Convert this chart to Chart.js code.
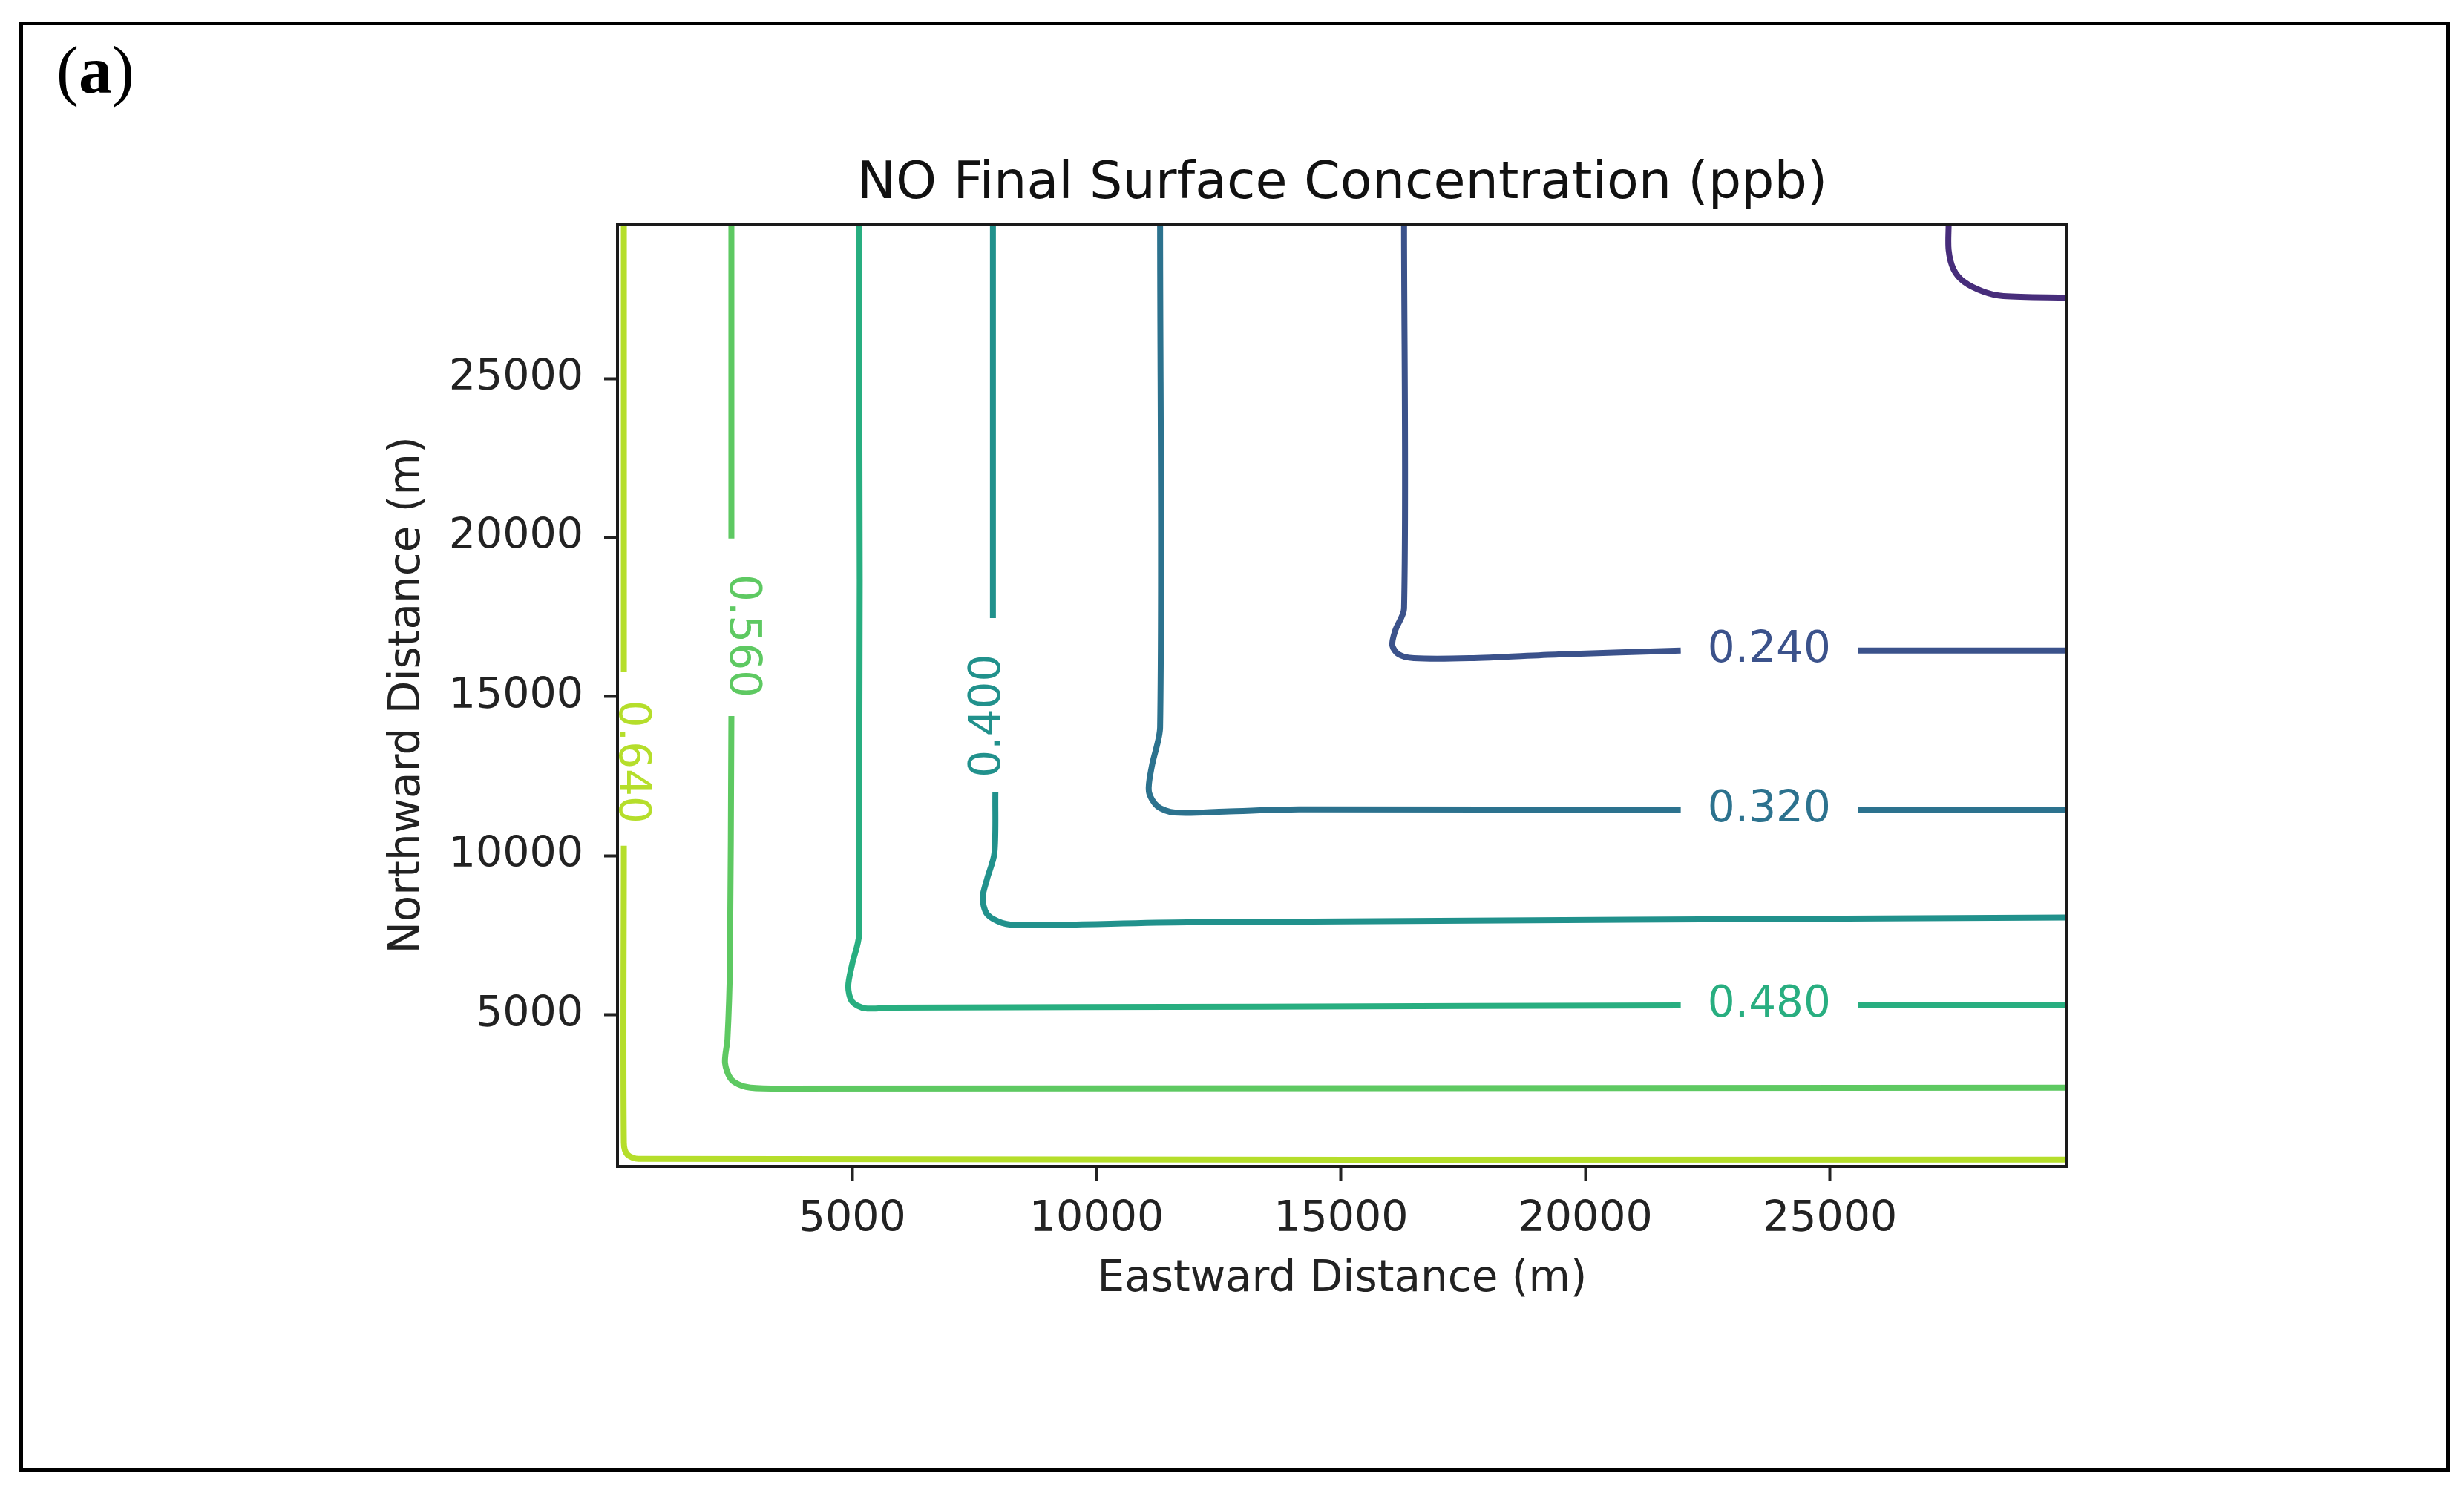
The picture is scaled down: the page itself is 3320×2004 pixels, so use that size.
<!DOCTYPE html>
<html>
<head>
<meta charset="utf-8">
<script src="https://cdn.jsdelivr.net/npm/chart.js@4.4.0/dist/chart.umd.min.js"></script>
<style>
  html, body { margin: 0; padding: 0; background: #fff; overflow: hidden; }
  #page { position: relative; width: 3320px; height: 2004px; }
  #frame { position: absolute; left: 26px; top: 29px; width: 3275px; height: 1955px; box-sizing: border-box; border: 5px solid #000; }
  #tag { position: absolute; left: 76px; top: 50px; font: normal 90px "Liberation Serif", "Times New Roman", serif; line-height: 1; color: #000; }
  #tag b { font-weight: bold; }
  #box { position: absolute; left: 0; top: 0; width: 3320px; height: 2004px; }
</style>
</head>
<body>
<div id="page">
  <div id="frame"></div>
  <div id="tag">(<b>a</b>)</div>
  <div id="box"><canvas id="myChart"></canvas></div>
</div>
<script>
// axes
const xRange = [200, 29850];
const yRange = [240, 29850];
const xTicks = [5000, 10000, 15000, 20000, 25000];
const xTickLabels = ['5000', '10000', '15000', '20000', '25000'];
const yTicks = [5000, 10000, 15000, 20000, 25000];
const yTickLabels = ['5000', '10000', '15000', '20000', '25000'];

// contour levels (ppb)
const levels = [0.16, 0.24, 0.32, 0.40, 0.48, 0.56, 0.64];
const levelColors = ['#472d7b', '#3b528b', '#2c728e', '#21918c', '#28ae80', '#5ec962', '#b5de2b'];

// contour paths (null = gap left for the inline label)
const c016x = [27430, 27430, 27530, 27750, 28140, 28550, 29850];
const c016y = [29850, 29030, 28430, 28030, 27730, 27590, 27540];

const c024x = [16290, 16290, 16110, 16050, 16180, 16490, 17630, 19450, 21950, 23760, 25580, 29850];
const c024y = [29850, 17770, 17080, 16610, 16330, 16210, 16210, 16330, 16450, null, 16450, 16450];

const c032x = [11300, 11300, 11130, 11070, 11250, 11600, 12620, 14140, 21950, 23760, 25580, 29850];
const c032y = [29850, 14040, 12810, 12020, 11550, 11360, 11390, 11460, 11430, null, 11430, 11430];

const c040x = [7880, 7880, 7880, 7930, 7910, 7760, 7670, 7760, 8070, 8520, 11860, 29850];
const c040y = [29850, 17470, null, 11990, 10080, 9270, 8680, 8170, 7890, 7820, 7910, 8060];

const c048x = [5140, 5140, 5000, 4920, 5000, 5260, 5790, 13380, 21950, 23760, 25580, 29850];
const c048y = [29850, 7520, 6590, 5890, 5420, 5210, 5230, 5260, 5300, null, 5300, 5300];

const c056x = [2530, 2530, 2530, 2530, 2500, 2450, 2400, 2530, 2830, 3360, 29850];
const c056y = [29850, 19970, null, 14390, 6590, 4250, 3490, 2970, 2740, 2690, 2720];

const c064x = [330, 330, 330, 330, 330, 400, 630, 29850];
const c064y = [29850, 15790, null, 10320, 990, 620, 480, 455];

// inline contour labels
const labelText = ['0.240', '0.320', '0.400', '0.480', '0.560', '0.640'];
const labelLevel = [0.24, 0.32, 0.40, 0.48, 0.56, 0.64];
const labelX = [23760, 23760, 7790, 23760, 2740, 480];
const labelY = [16450, 11430, 14400, 5300, 16910, 12950];
const labelRot = [0, 0, -90, 0, 90, 90];

const contourXs = [c016x, c024x, c032x, c040x, c048x, c056x, c064x];
const contourYs = [c016y, c024y, c032y, c040y, c048y, c056y, c064y];

const datasets = levels.map((lv, i) => ({
    label: lv.toFixed(3),
    data: contourXs[i].map((x, j) => ({x: x, y: contourYs[i][j]})),
    showLine: true,
    borderColor: levelColors[i],
    borderWidth: 8,
    pointRadius: 0,
    tension: 0.3,
    spanGaps: false
}));

const sansFont = 'DejaVu Sans';

const contourLabels = {
    id: 'contourLabels',
    afterDatasetsDraw(chart){
        const {ctx, chartArea, scales} = chart;
        ctx.save();
        ctx.font = '58px "' + sansFont + '"';
        ctx.textAlign = 'center';
        ctx.textBaseline = 'middle';
        labelText.forEach((t, i) => {
            const px = scales.x.getPixelForValue(labelX[i]);
            const py = scales.y.getPixelForValue(labelY[i]);
            ctx.save();
            ctx.translate(px, py);
            ctx.rotate(labelRot[i] * Math.PI / 180);
            ctx.fillStyle = levelColors[levels.indexOf(labelLevel[i])];
            ctx.fillText(t, 0, 0);
            ctx.restore();
        });
        // axes frame
        ctx.strokeStyle = '#1a1a1a';
        ctx.lineWidth = 4;
        ctx.strokeRect(chartArea.left, chartArea.top, chartArea.right - chartArea.left, chartArea.bottom - chartArea.top);
        ctx.restore();
    }
};

const myChart = new Chart('myChart', {
    type: 'scatter',
    data: {datasets: datasets},
    options: {
        responsive: true,
        maintainAspectRatio: false,
        animation: false,
        layout: {padding: {left: 0, right: 535, top: 207, bottom: 0}},
        plugins: {
            legend: {display: false},
            tooltip: {enabled: false},
            title: {
                display: true,
                fullSize: false,
                text: 'NO Final Surface Concentration (ppb)',
                color: '#111',
                font: {family: sansFont, size: 70, weight: 'normal'},
                padding: {top: 0, bottom: 11}
            }
        },
        scales: {
            x: {
                type: 'linear',
                min: xRange[0],
                max: xRange[1],
                afterBuildTicks: s => { s.ticks = xTicks.map(v => ({value: v})); },
                afterFit: s => { s.height = 432; },
                ticks: {
                    callback: (v, i) => xTickLabels[i],
                    color: '#222',
                    font: {family: sansFont, size: 57},
                    padding: 18,
                    maxRotation: 0
                },
                grid: {display: true, drawOnChartArea: false, drawTicks: true, tickLength: 20, tickWidth: 4, tickColor: '#222'},
                border: {display: false},
                title: {
                    display: true,
                    text: 'Eastward Distance (m)',
                    color: '#222',
                    font: {family: sansFont, size: 58},
                    padding: {top: 0, bottom: 244}
                }
            },
            y: {
                type: 'linear',
                min: yRange[0],
                max: yRange[1],
                afterBuildTicks: s => { s.ticks = yTicks.map(v => ({value: v})); },
                afterFit: s => { s.width = 832; },
                ticks: {
                    callback: (v, i) => yTickLabels[i],
                    color: '#222',
                    font: {family: sansFont, size: 57},
                    padding: 28
                },
                grid: {display: true, drawOnChartArea: false, drawTicks: true, tickLength: 18, tickWidth: 4, tickColor: '#222'},
                border: {display: false},
                title: {
                    display: true,
                    text: 'Northward Distance (m)',
                    color: '#222',
                    font: {family: sansFont, size: 58},
                    padding: {top: 515, bottom: 0}
                }
            }
        }
    },
    plugins: [contourLabels]
});
</script>
</body>
</html>
